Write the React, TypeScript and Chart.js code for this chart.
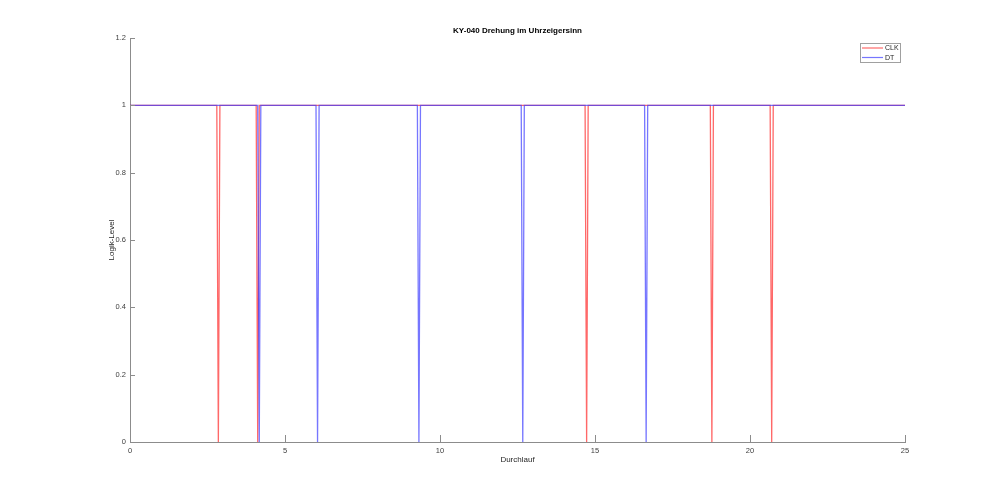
import React, { useEffect, useRef } from 'react';
import { Chart, registerables } from 'chart.js';

Chart.register(...registerables);

// CLK samples (x = Durchlauf, y = Logik-Level)
const clkX = [0, 2.80, 2.85, 2.90, 4.07, 4.12, 4.17, 14.68, 14.73, 14.78, 18.72, 18.77, 18.82, 20.65, 20.70, 20.75, 25];
const clkY = [1, 1, 0, 1, 1, 0, 1, 1, 0, 1, 1, 0, 1, 1, 0, 1, 1];

// DT samples
const dtX = [0, 4.12, 4.17, 4.22, 6.00, 6.05, 6.10, 9.27, 9.32, 9.37, 12.62, 12.67, 12.72, 16.60, 16.65, 16.70, 25];
const dtY = [1, 1, 0, 1, 1, 0, 1, 1, 0, 1, 1, 0, 1, 1, 0, 1, 1];

const seriesLabels = ['CLK', 'DT'];
const seriesColors = ['rgba(255,40,40,0.7)', 'rgba(60,60,255,0.7)'];
const xTicks = [0, 5, 10, 15, 20, 25];
const yTicks = [0, 0.2, 0.4, 0.6, 0.8, 1, 1.2];
const yTickLabels = ['0', '0.2', '0.4', '0.6', '0.8', '1', '1.2'];
const titleText = 'KY-040 Drehung im Uhrzeigersinn';
const xTitle = 'Durchlauf';
const yTitle = 'Logik-Level';

const FONT = '"Liberation Sans", Arial, Helvetica, sans-serif';
const AXIS_COLOR = '#8c8c8c';
const TEXT_COLOR = '#404040';

const decorPlugin = {
  id: 'matlabDecor',
  afterDraw(chart: any) {
    const ctx = chart.ctx as CanvasRenderingContext2D;
    const area = chart.chartArea;
    const xs = chart.scales.x;
    const ys = chart.scales.y;
    ctx.save();
    // inward ticks
    ctx.strokeStyle = AXIS_COLOR;
    ctx.lineWidth = 1;
    ctx.beginPath();
    xTicks.forEach((v) => {
      const px = Math.round(xs.getPixelForValue(v)) + 0.5;
      ctx.moveTo(px, area.bottom);
      ctx.lineTo(px, area.bottom - 7);
    });
    yTicks.forEach((v) => {
      const py = Math.round(ys.getPixelForValue(v)) + 0.5;
      ctx.moveTo(area.left, py);
      ctx.lineTo(area.left + 5, py);
    });
    ctx.stroke();

    // title
    ctx.fillStyle = '#000';
    ctx.font = `bold 8px ${FONT}`;
    ctx.textAlign = 'center';
    ctx.textBaseline = 'middle';
    ctx.fillText(titleText, (area.left + area.right) / 2, 31);

    // axis titles
    ctx.fillStyle = '#262626';
    ctx.font = `8px ${FONT}`;
    ctx.fillText(xTitle, (area.left + area.right) / 2, 460);
    ctx.save();
    ctx.translate(112, (area.top + area.bottom) / 2);
    ctx.rotate(-Math.PI / 2);
    ctx.fillText(yTitle, 0, 0);
    ctx.restore();

    // legend
    const lx = 860.5, ly = 43.5, lw = 40, lh = 19;
    ctx.fillStyle = '#fff';
    ctx.fillRect(lx, ly, lw, lh);
    ctx.strokeStyle = '#a0a0a0';
    ctx.lineWidth = 1;
    ctx.strokeRect(lx, ly, lw, lh);
    chart.data.datasets.forEach((ds: any, i: number) => {
      const y = 48 + i * 9.5;
      ctx.strokeStyle = ds.borderColor;
      ctx.lineWidth = 1.2;
      ctx.beginPath();
      ctx.moveTo(862, y);
      ctx.lineTo(883, y);
      ctx.stroke();
      ctx.fillStyle = '#262626';
      ctx.font = `7px ${FONT}`;
      ctx.textAlign = 'left';
      ctx.textBaseline = 'middle';
      ctx.fillText(ds.label, 885, y + 0.5);
    });
    ctx.restore();
  },
};

export default function App() {
  const ref = useRef<HTMLCanvasElement | null>(null);
  useEffect(() => {
    document.body.style.margin = '0';
    if (!ref.current) return;
    const clk = clkX.map((x, i) => ({ x, y: clkY[i] }));
    const dt = dtX.map((x, i) => ({ x, y: dtY[i] }));
    const chart = new Chart(ref.current, {
      type: 'line',
      data: {
        datasets: [
          {
            label: seriesLabels[0],
            data: clk,
            borderColor: seriesColors[0],
            borderWidth: 1.3,
            pointRadius: 0,
            tension: 0,
            fill: false,
            order: 1,
          },
          {
            label: seriesLabels[1],
            data: dt,
            borderColor: seriesColors[1],
            borderWidth: 1.3,
            pointRadius: 0,
            tension: 0,
            fill: false,
            order: 0,
          },
        ],
      },
      options: {
        animation: false,
        responsive: false,
        devicePixelRatio: 1,
        layout: { padding: { left: 0, top: 38, right: 95, bottom: 0 } },
        plugins: {
          legend: { display: false },
          title: { display: false },
          tooltip: { enabled: false },
        },
        scales: {
          x: {
            type: 'linear',
            min: 0,
            max: 25,
            afterFit: (s: any) => { s.height = 55; },
            afterBuildTicks: (s: any) => { s.ticks = xTicks.map((v) => ({ value: v })); },
            grid: { display: false, drawTicks: false, tickLength: 0 },
            border: { display: true, color: AXIS_COLOR, width: 1 },
            ticks: {
              color: TEXT_COLOR,
              font: { family: FONT, size: 7.5 },
              padding: 4,
              maxRotation: 0,
              autoSkip: false,
              callback: (v: any) => String(v),
            },
          },
          y: {
            type: 'linear',
            min: 0,
            max: 1.2,
            afterFit: (s: any) => { s.width = 130; },
            afterBuildTicks: (s: any) => { s.ticks = yTicks.map((v) => ({ value: v })); },
            grid: { display: false, drawTicks: false, tickLength: 0 },
            border: { display: true, color: AXIS_COLOR, width: 1 },
            ticks: {
              color: TEXT_COLOR,
              font: { family: FONT, size: 7.5 },
              padding: 4,
              autoSkip: false,
              callback: (v: any) => {
                const i = yTicks.findIndex((t) => Math.abs(t - v) < 1e-6);
                return i >= 0 ? yTickLabels[i] : '';
              },
            },
          },
        },
      },
      plugins: [decorPlugin],
    });
    return () => chart.destroy();
  }, []);
  return <canvas ref={ref} width={1000} height={497} style={{ display: 'block' }} />;
}
